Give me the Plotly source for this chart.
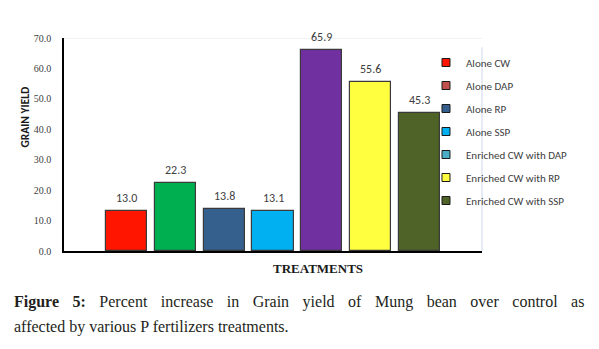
import plotly.graph_objects as go

treatments = ["Alone CW", "Alone DAP", "Alone RP", "Alone SSP",
              "Enriched CW with DAP", "Enriched CW with RP", "Enriched CW with SSP"]
values = [13.0, 22.3, 13.8, 13.1, 65.9, 55.6, 45.3]
bar_colors = ["#FF1500", "#00B050", "#355F8D", "#00B0F0", "#7030A0", "#FFFF40", "#4F6228"]
legend_colors = ["#FF1500", "#C0504D", "#355F8D", "#00B0F0", "#4BACC6", "#FFFF40", "#4F6228"]
y_ticks = [0, 10, 20, 30, 40, 50, 60, 70]

positions = list(range(len(treatments)))

fig = go.Figure()
fig.add_trace(go.Bar(
    x=positions, y=values, width=0.84,
    marker=dict(color=bar_colors, line=dict(color="#3A3A3A", width=1.2)),
    showlegend=False, hoverinfo="skip",
))
for i, (name, col) in enumerate(zip(treatments, legend_colors)):
    fig.add_trace(go.Scatter(
        x=[None], y=[None], mode="markers", name=name,
        legendgroup=f"g{i}",
        marker=dict(symbol="square", size=8, color=col,
                    line=dict(color="#1a1a1a", width=1)),
    ))

for x, v in zip(positions, values):
    fig.add_annotation(x=x, y=v, text=f"{v:.1f}", showarrow=False,
                       yanchor="bottom", yshift=4,
                       font=dict(family="Carlito, Liberation Sans, sans-serif", size=12, color="#404040"))

fig.update_layout(
    width=591, height=341,
    margin=dict(l=56, r=117, t=30, b=98),
    paper_bgcolor="white", plot_bgcolor="white",
    bargap=0,
    xaxis=dict(range=[-1.28, 7.28], showticklabels=False, showgrid=False,
               zeroline=False, showline=True, linecolor="black", linewidth=1.5,
               ticks=""),
    yaxis=dict(range=[0, 70], tickvals=y_ticks, tickformat=".1f",
               showgrid=False, zeroline=False, showline=True,
               linecolor="black", linewidth=1.5, ticks="",
               ticklabelstandoff=9,
               tickfont=dict(family="Liberation Serif, Times New Roman, serif", size=10, color="#404040")),
    legend=dict(x=0.866, xanchor="left", y=0.953, yanchor="top",
                bgcolor="rgba(0,0,0,0)", tracegroupgap=4,
                font=dict(family="Carlito, Liberation Sans, sans-serif", size=11, color="#404040"),
                itemwidth=30),
    showlegend=True,
)

# faint plot-area border (top and right)
fig.add_shape(type="line", xref="paper", yref="y", x0=0, x1=1, y0=70, y1=70,
              line=dict(color="#E6E6E6", width=1))
fig.add_shape(type="line", xref="paper", yref="y", x0=1, x1=1, y0=0, y1=67,
              line=dict(color="#DCE6F2", width=1.5))

# axis titles
fig.add_annotation(xref="paper", yref="paper", x=0.607, y=-0.037, yanchor="top",
                   xanchor="center",
                   text="<b>TREATMENTS</b>", showarrow=False,
                   font=dict(family="Liberation Serif, serif", size=13, color="#1a1a1a"))
fig.add_annotation(xref="paper", yref="paper", x=-0.094, y=0.63,
                   xanchor="center", yanchor="middle",
                   text="<b>GRAIN YIELD</b>", textangle=-90, showarrow=False,
                   font=dict(family="Carlito, Liberation Sans, sans-serif", size=11.5, color="#1a1a1a"))

# caption
cap_font = dict(family="Liberation Serif, serif", size=16, color="#231F20")
fig.add_annotation(xref="paper", yref="paper", x=-0.124, y=-0.19, xanchor="left", yanchor="top",
                   align="left", showarrow=False,
                   text="<span style='word-spacing:9.5px'><b>Figure 5:</b> Percent increase in Grain yield of Mung bean over control as</span>",
                   font=cap_font)
fig.add_annotation(xref="paper", yref="paper", x=-0.124, y=-0.305, xanchor="left", yanchor="top",
                   align="left", showarrow=False,
                   text="affected by various P fertilizers treatments.",
                   font=cap_font)

fig.write_html("out.html")
